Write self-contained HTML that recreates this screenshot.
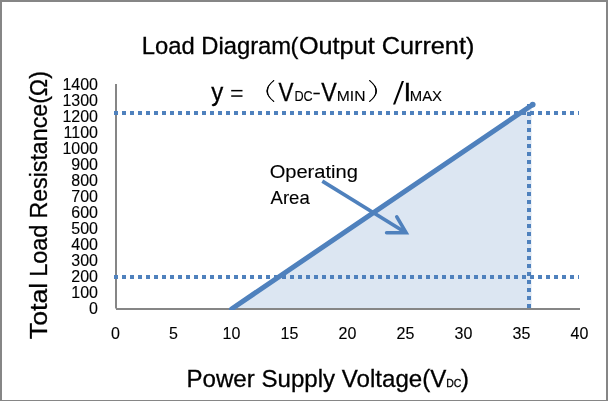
<!DOCTYPE html>
<html><head><meta charset="utf-8">
<style>
html,body{margin:0;padding:0;background:#fff;}
body{width:608px;height:401px;overflow:hidden;position:relative;}
svg{position:absolute;left:0;top:0;display:block;will-change:transform;}
text{font-family:"Liberation Sans",sans-serif;fill:#000;stroke:#000;stroke-width:0.3px;}
.tk text,text.thin{stroke-width:0.12px;}
</style></head>
<body>
<svg width="608" height="401" viewBox="0 0 608 401">
<defs>
<clipPath id="pa"><rect x="100" y="60" width="500" height="250"/></clipPath>
</defs>
<rect x="0" y="0" width="608" height="401" fill="#fff"/>
<path d="M0 0H608V401H0Z M2 2V400H606V2Z" fill="#868686" fill-rule="evenodd"/>

<!-- fill -->
<polygon points="232,308 531.5,106 531.5,308" fill="#DCE6F2"/>

<!-- axes -->
<rect x="115" y="84" width="2" height="224.5" fill="#868686"/>
<rect x="116" y="308" width="464" height="2" fill="#868686"/>

<!-- main line -->
<line x1="231.5" y1="309" x2="532.5" y2="104.7" stroke="#4F81BD" stroke-width="5" stroke-linecap="round" clip-path="url(#pa)"/>

<!-- dotted lines -->
<g fill="#4F81BD">
<path d="M114 111h4v4h-4zM122 111h4v4h-4zM130 111h4v4h-4zM138 111h4v4h-4zM146 111h4v4h-4zM154 111h4v4h-4zM162 111h4v4h-4zM170 111h4v4h-4zM178 111h4v4h-4zM186 111h4v4h-4zM194 111h4v4h-4zM202 111h4v4h-4zM210 111h4v4h-4zM218 111h4v4h-4zM226 111h4v4h-4zM234 111h4v4h-4zM242 111h4v4h-4zM250 111h4v4h-4zM258 111h4v4h-4zM266 111h4v4h-4zM274 111h4v4h-4zM282 111h4v4h-4zM290 111h4v4h-4zM298 111h4v4h-4zM306 111h4v4h-4zM314 111h4v4h-4zM322 111h4v4h-4zM330 111h4v4h-4zM338 111h4v4h-4zM346 111h4v4h-4zM354 111h4v4h-4zM362 111h4v4h-4zM370 111h4v4h-4zM378 111h4v4h-4zM386 111h4v4h-4zM394 111h4v4h-4zM402 111h4v4h-4zM410 111h4v4h-4zM418 111h4v4h-4zM426 111h4v4h-4zM434 111h4v4h-4zM442 111h4v4h-4zM450 111h4v4h-4zM458 111h4v4h-4zM466 111h4v4h-4zM474 111h4v4h-4zM482 111h4v4h-4zM490 111h4v4h-4zM498 111h4v4h-4zM506 111h4v4h-4zM514 111h4v4h-4zM522 111h4v4h-4zM530 111h4v4h-4zM538 111h4v4h-4zM546 111h4v4h-4zM554 111h4v4h-4zM562 111h4v4h-4zM570 111h4v4h-4zM578 111h1v4h-1zM114 275h4v4h-4zM122 275h4v4h-4zM130 275h4v4h-4zM138 275h4v4h-4zM146 275h4v4h-4zM154 275h4v4h-4zM162 275h4v4h-4zM170 275h4v4h-4zM178 275h4v4h-4zM186 275h4v4h-4zM194 275h4v4h-4zM202 275h4v4h-4zM210 275h4v4h-4zM218 275h4v4h-4zM226 275h4v4h-4zM234 275h4v4h-4zM242 275h4v4h-4zM250 275h4v4h-4zM258 275h4v4h-4zM266 275h4v4h-4zM274 275h4v4h-4zM282 275h4v4h-4zM290 275h4v4h-4zM298 275h4v4h-4zM306 275h4v4h-4zM314 275h4v4h-4zM322 275h4v4h-4zM330 275h4v4h-4zM338 275h4v4h-4zM346 275h4v4h-4zM354 275h4v4h-4zM362 275h4v4h-4zM370 275h4v4h-4zM378 275h4v4h-4zM386 275h4v4h-4zM394 275h4v4h-4zM402 275h4v4h-4zM410 275h4v4h-4zM418 275h4v4h-4zM426 275h4v4h-4zM434 275h4v4h-4zM442 275h4v4h-4zM450 275h4v4h-4zM458 275h4v4h-4zM466 275h4v4h-4zM474 275h4v4h-4zM482 275h4v4h-4zM490 275h4v4h-4zM498 275h4v4h-4zM506 275h4v4h-4zM514 275h4v4h-4zM522 275h4v4h-4zM530 275h4v4h-4zM538 275h4v4h-4zM546 275h4v4h-4zM554 275h4v4h-4zM562 275h4v4h-4zM570 275h4v4h-4zM578 275h1v4h-1zM527 304h4v4h-4zM527 296h4v4h-4zM527 288h4v4h-4zM527 280h4v4h-4zM527 272h4v4h-4zM527 264h4v4h-4zM527 256h4v4h-4zM527 248h4v4h-4zM527 240h4v4h-4zM527 232h4v4h-4zM527 224h4v4h-4zM527 216h4v4h-4zM527 208h4v4h-4zM527 200h4v4h-4zM527 192h4v4h-4zM527 184h4v4h-4zM527 176h4v4h-4zM527 168h4v4h-4zM527 160h4v4h-4zM527 152h4v4h-4zM527 144h4v4h-4zM527 136h4v4h-4zM527 128h4v4h-4zM527 120h4v4h-4zM527 112h4v4h-4zM527 104h4v4h-4z"/>
</g>

<circle cx="532.7" cy="104.6" r="2.85" fill="#4F81BD"/>
<!-- arrow -->
<g fill="none" stroke="#4F81BD" stroke-width="3.6">
<line x1="322.3" y1="181.1" x2="405.5" y2="232.5"/>
<polyline points="396.8,216.8 406.1,232.7 386.6,232.8" stroke-linecap="round" stroke-linejoin="miter"/>
</g>

<!-- texts -->
<text x="141.75" y="53.75" font-size="23.7" textLength="149.42" lengthAdjust="spacingAndGlyphs">Load Diagram</text><text x="290.6" y="53.75" font-size="23.7">(</text><text x="298.9" y="53.75" font-size="23.7" textLength="175.46" lengthAdjust="spacingAndGlyphs">Output Current)</text>

<g class="tk" font-size="16" text-anchor="end">
<text x="98" y="89.8">1400</text>
<text x="98" y="105.8">1300</text>
<text x="98" y="121.8">1200</text>
<text x="98" y="137.8">1100</text>
<text x="98" y="153.8">1000</text>
<text x="98" y="169.8">900</text>
<text x="98" y="185.8">800</text>
<text x="98" y="201.8">700</text>
<text x="98" y="217.8">600</text>
<text x="98" y="233.8">500</text>
<text x="98" y="249.8">400</text>
<text x="98" y="265.8">300</text>
<text x="98" y="281.8">200</text>
<text x="98" y="297.8">100</text>
<text x="98" y="313.8">0</text>
</g>
<g class="tk" font-size="16" text-anchor="middle">
<text x="115.5" y="338.5">0</text>
<text x="173.5" y="338.5">5</text>
<text x="231.5" y="338.5">10</text>
<text x="289.5" y="338.5">15</text>
<text x="347.5" y="338.5">20</text>
<text x="405.5" y="338.5">25</text>
<text x="463.5" y="338.5">30</text>
<text x="521.5" y="338.5">35</text>
<text x="579.5" y="338.5">40</text>
</g>

<text x="186.43" y="386.6" font-size="24.8" textLength="259.97" lengthAdjust="spacingAndGlyphs">Power Supply Voltage(V</text>
<text x="446.14" y="387" font-size="11.6" textLength="15.16" lengthAdjust="spacingAndGlyphs">DC</text>
<text x="460.67" y="386.6" font-size="24.8">)</text>
<g transform="translate(46.8,411.1) rotate(-90)" font-size="24.8"><text x="71.93" y="0" textLength="56.47" lengthAdjust="spacingAndGlyphs">Total</text><text x="134.28" y="0" textLength="52.13" lengthAdjust="spacingAndGlyphs">Load</text><text x="192.5" y="0" textLength="147.54" lengthAdjust="spacingAndGlyphs">Resistance(Ω)</text></g>

<text class="thin" x="269.65" y="178" font-size="18.5" textLength="88.25" lengthAdjust="spacingAndGlyphs">Operating</text>
<text class="thin" x="270.56" y="203.8" font-size="18.5" textLength="39.14" lengthAdjust="spacingAndGlyphs">Area</text>

<!-- formula -->
<g font-size="26.5">
<text x="211.34" y="101.4" font-size="25.6" textLength="12.01" lengthAdjust="spacingAndGlyphs">y</text>
<text x="278.6" y="101" textLength="15" lengthAdjust="spacingAndGlyphs">V</text>
<text class="thin" x="294.46" y="100.8" font-size="14" textLength="18.32" lengthAdjust="spacingAndGlyphs">DC</text>
<text x="321.2" y="101" textLength="15.5" lengthAdjust="spacingAndGlyphs">V</text>
<text class="thin" x="336.82" y="100.8" font-size="14" textLength="28.66" lengthAdjust="spacingAndGlyphs">MIN</text>
<text x="403.63" y="101" textLength="7.75" lengthAdjust="spacingAndGlyphs">I</text>
<text class="thin" x="409.78" y="100.8" font-size="14" textLength="32.23" lengthAdjust="spacingAndGlyphs">MAX</text>
</g>
<rect x="231.2" y="89.9" width="11.3" height="1.5" fill="#000"/><rect x="231.2" y="95.3" width="11.3" height="1.5" fill="#000"/>
<rect x="313.4" y="92.7" width="6.4" height="1.6" fill="#000"/>
<polygon points="393,104.4 395.2,104.4 404,81.1 401.8,81.1" fill="#000"/>
<path d="M274.1,80.3 Q260.3,91 274.1,101.7" fill="none" stroke="#000" stroke-width="1.05"/><path d="M274.3,80.6 Q258.5,91 274.3,101.4 L273.6,102 Q262.4,91 273.6,80 Z" fill="#000"/>
<path d="M369.3,80.3 Q383.1,91 369.3,101.7" fill="none" stroke="#000" stroke-width="1.05"/><path d="M369.1,80.6 Q384.9,91 369.1,101.4 L369.8,102 Q381,91 369.8,80 Z" fill="#000"/>
</svg>
</body></html>
